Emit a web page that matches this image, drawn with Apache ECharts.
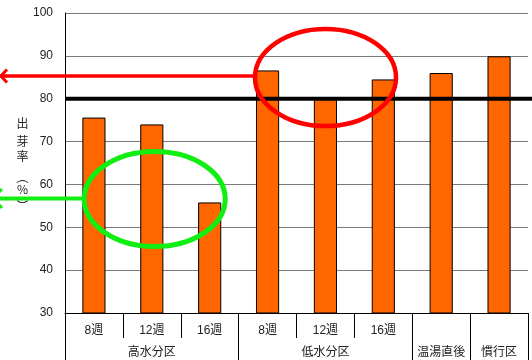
<!DOCTYPE html>
<html>
<head>
<meta charset="utf-8">
<script src="https://cdn.jsdelivr.net/npm/echarts@6/dist/echarts.min.js"></script>
<style>
html,body{margin:0;padding:0;background:#fff;}
#c{width:532px;height:360px;}
</style>
</head>
<body>
<div id="c"></div>
<script>
// ---- data ----
var categories = ['8週', '12週', '16週', '8週', '12週', '16週', '', ''];
var groupLabels = ['', '高水分区', '', '', '低水分区', '', '温湯直後', '慣行区'];
var groupStarts = [0, 3, 6, 7];
var germinationRate = [75.6, 74.0, 55.8, 86.6, 80.4, 84.5, 86.0, 89.9];
var referenceValue = 80;
var yTicks = { min: 30, max: 100, interval: 10 };
var yNameChars = ['出', '芽', '率', '︵', '%', '︶'];

var FONT = '"Liberation Sans", "Noto Sans CJK JP", sans-serif';
var chart = echarts.init(document.getElementById('c'), null, { renderer: 'canvas' });

chart.setOption({
  animation: false,
  backgroundColor: '#ffffff',
  grid: { left: 65, right: 4, top: 13, bottom: 47 },
  xAxis: [
    {
      type: 'category',
      data: categories,
      position: 'bottom',
      axisLine: { show: true, lineStyle: { color: '#000', width: 1 } },
      axisTick: { show: true, interval: 0, length: 25, lineStyle: { color: '#000', width: 1 } },
      axisLabel: { interval: 0, margin: 12, fontSize: 12, color: '#222', fontFamily: FONT },
      splitLine: { show: false }
    },
    {
      type: 'category',
      data: groupLabels,
      position: 'bottom',
      offset: 25,
      axisLine: { show: false },
      axisTick: {
        show: true,
        length: 25,
        interval: function (idx) { return groupStarts.indexOf(idx) >= 0; },
        lineStyle: { color: '#000', width: 1 }
      },
      axisLabel: { interval: 0, margin: 9, fontSize: 12, color: '#222', fontFamily: FONT },
      splitLine: { show: false }
    }
  ],
  yAxis: {
    type: 'value',
    min: yTicks.min,
    max: yTicks.max,
    interval: yTicks.interval,
    axisLine: { show: true, lineStyle: { color: '#000', width: 1 } },
    axisTick: { show: false },
    axisLabel: { margin: 12, fontSize: 12, color: '#222', fontFamily: FONT },
    splitLine: { show: true, lineStyle: { color: '#7a7a7a', width: 1 } }
  },
  series: [
    {
      type: 'bar',
      xAxisIndex: 0,
      data: germinationRate,
      barWidth: '40%',
      itemStyle: { color: '#ff6600', borderColor: '#000', borderWidth: 1 }
    }
  ]
});

// overlays anchored through the chart's scales
var y80 = chart.convertToPixel({ yAxisIndex: 0 }, referenceValue);
var x0 = chart.convertToPixel({ gridIndex: 0 }, [0, yTicks.min])[0];
var gridLeft = 65;

var elements = [];
elements.push({
  type: 'line', z: 100,
  shape: { x1: gridLeft + 1, y1: y80, x2: 532, y2: y80 },
  style: { stroke: '#000', lineWidth: 4 }
});

// vertical y-axis name
var yNameY = [123, 141, 156, 177, 189, 206];
for (var i = 0; i < yNameChars.length; i++) {
  elements.push({
    type: 'text', z: 100,
    x: 22.5, y: yNameY[i],
    style: {
      text: yNameChars[i], fill: '#222', fontSize: 12,
      fontFamily: '"Noto Sans CJK JP", sans-serif',
      align: 'center', verticalAlign: 'middle'
    }
  });
}

// red annotation
elements.push({
  type: 'ellipse', z: 110,
  shape: { cx: 325.5, cy: 77.5, rx: 70.5, ry: 48.5 },
  style: { fill: 'none', stroke: '#ff0000', lineWidth: 4.5 }
});
elements.push({
  type: 'line', z: 110,
  shape: { x1: 0, y1: 76, x2: 255, y2: 76 },
  style: { stroke: '#ff0000', lineWidth: 3.5 }
});
elements.push({
  type: 'polyline', z: 110,
  shape: { points: [[7, 69.5], [1, 76], [7, 82.5]] },
  style: { fill: 'none', stroke: '#ff0000', lineWidth: 3 }
});

// green annotation
elements.push({
  type: 'ellipse', z: 110,
  shape: { cx: 154.7, cy: 199, rx: 70.5, ry: 47.5 },
  style: { fill: 'none', stroke: '#11ee11', lineWidth: 5 }
});
elements.push({
  type: 'line', z: 110,
  shape: { x1: 0, y1: 198.5, x2: 85, y2: 198.5 },
  style: { stroke: '#11ee11', lineWidth: 4 }
});
elements.push({
  type: 'polyline', z: 110,
  shape: { points: [[2, 189], [-7, 198.5], [2, 208]] },
  style: { fill: 'none', stroke: '#11ee11', lineWidth: 3 }
});

chart.setOption({ graphic: { elements: elements } });
</script>
</body>
</html>
